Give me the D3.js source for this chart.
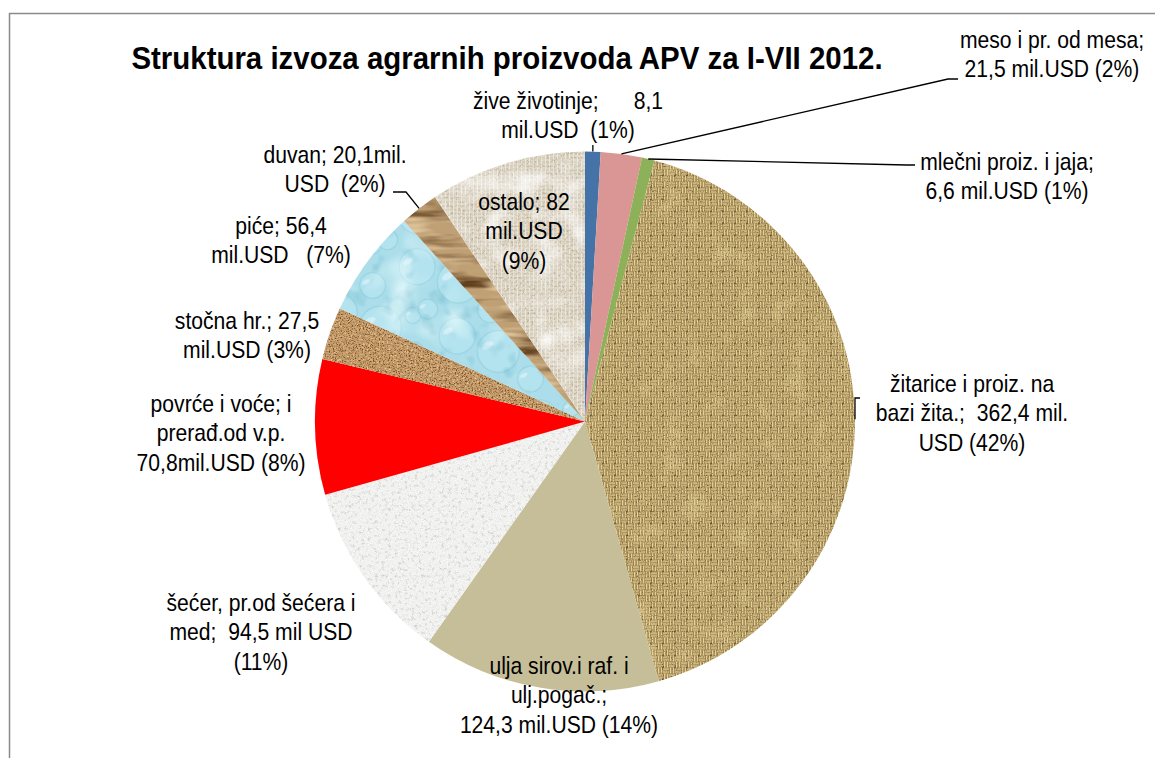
<!DOCTYPE html>
<html>
<head>
<meta charset="utf-8">
<script src="https://cdn.jsdelivr.net/npm/d3@7"></script>
<style>
  html, body { margin: 0; padding: 0; background: #fff; }
  svg text { white-space: pre; }
</style>
</head>
<body>
<div id="chart"></div>
<script>
// Struktura izvoza agrarnih proizvoda APV za I-VII 2012. (pie, textured slices)

const categories = [
  "žive životinje", "meso i pr. od mesa", "mlečni proiz. i jaja",
  "žitarice i proiz. na bazi žita", "ulja sirov.i raf. i ulj.pogač.",
  "šećer, pr.od šećera i med", "povrće i voće; i prerađ.od v.p.",
  "stočna hr.", "piće", "duvan", "ostalo"
];
// mil. USD
const values = [8.1, 21.5, 6.6, 362.4, 124.3, 94.5, 70.8, 27.5, 56.4, 20.1, 82];

// label text exactly as written on the chart
const labelLines = [
  ["žive životinje;      8,1", "mil.USD  (1%)"],
  ["meso i pr. od mesa;", "21,5 mil.USD (2%)"],
  ["mlečni proiz. i jaja;", "6,6 mil.USD (1%)"],
  ["žitarice i proiz. na", "bazi žita.;  362,4 mil.", "USD (42%)"],
  ["ulja sirov.i raf. i", "ulj.pogač.;", "124,3 mil.USD (14%)"],
  ["šećer, pr.od šećera i", "med;  94,5 mil USD", "(11%)"],
  ["povrće i voće; i", "prerađ.od v.p.", "70,8mil.USD (8%)"],
  ["stočna hr.; 27,5", "mil.USD (3%)"],
  ["piće; 56,4", "mil.USD   (7%)"],
  ["duvan; 20,1mil.", "USD  (2%)"],
  ["ostalo; 82", "mil.USD", "(9%)"]
];

const title = "Struktura izvoza agrarnih proizvoda APV za I-VII 2012.";

// ---- layout / style ----
const width = 1155, height = 758;
const cx = 585, cy = 421.5, R = 270;
const lineH = 29.5;

// label block anchors: centre x, first baseline y
const labelPos = [
  [568, 109], [1052, 48], [1007, 170], [972, 392], [559, 674], [261, 611],
  [221, 412], [247, 329], [281, 234], [335, 163], [524, 210]
];
// leader line bend points (from the slice edge outwards)
const leaders = {
  0: [[null, 145]],
  1: [[948, 79], [958, 79]],
  2: [[907, 165], [915, 165]],
  3: [[null, 398], [860, 398]],
  9: [[406, 192], [393, 192]]
};

const fills = [
  "#4573a8", "#d99694", "#8db158", "url(#burlap)", "#c6be98", "#efefed",
  "#ff0000", "#c49c6c", "url(#water)", "#bf9f74", "url(#linen)"
];
const noise = [null, null, null, "nBurlap", null, "nSugar", null, "nSand", "nWater", "nTobacco", "nLinen"];

// ---- font check (narrow face if installed, otherwise squeeze) ----
function hasFont(name) {
  const c = document.createElement("canvas").getContext("2d");
  const s = "mmmmmmmmmmlli WWW 0123 abc";
  c.font = "40px monospace";
  const a = c.measureText(s).width;
  c.font = `40px "${name}", monospace`;
  return c.measureText(s).width !== a;
}
const narrow = hasFont("Liberation Sans Narrow");
const family = narrow ? "'Liberation Sans Narrow', 'Arial Narrow', sans-serif" : "'Liberation Sans', Arial, sans-serif";
const squeeze = narrow ? 1.07 : 0.88;
const labelSize = narrow ? 22 : 24;
const titleSize = narrow ? 30 : 32;
const titleSqueeze = narrow ? 1.1 : 0.92;

const svg = d3.select("#chart").append("svg")
  .attr("width", width)
  .attr("height", height)
  .style("font-family", family);

// ---- textures ----
const defs = svg.append("defs");

function noiseFilter(id, freq, oct, seed, rgb, aScale, aOff, extra) {
  const f = defs.append("filter").attr("id", id)
    .attr("x", "-5%").attr("y", "-5%").attr("width", "110%").attr("height", "110%")
    .attr("color-interpolation-filters", "sRGB");
  f.append("feTurbulence").attr("type", "fractalNoise")
    .attr("baseFrequency", freq).attr("numOctaves", oct).attr("seed", seed).attr("result", "t");
  f.append("feColorMatrix").attr("in", "t").attr("type", "matrix")
    .attr("values", `0 0 0 0 ${rgb[0]}  0 0 0 0 ${rgb[1]}  0 0 0 0 ${rgb[2]}  ${aScale} 0 0 0 ${aOff}`)
    .attr("result", "c");
  f.append("feComposite").attr("in", "c").attr("in2", "SourceGraphic").attr("operator", "in").attr("result", "n1");
  const merge = [ "SourceGraphic", "n1" ];
  if (extra) {
    f.append("feTurbulence").attr("type", "fractalNoise")
      .attr("baseFrequency", extra.freq).attr("numOctaves", extra.oct).attr("seed", extra.seed).attr("result", "t2");
    f.append("feColorMatrix").attr("in", "t2").attr("type", "matrix")
      .attr("values", `0 0 0 0 ${extra.rgb[0]}  0 0 0 0 ${extra.rgb[1]}  0 0 0 0 ${extra.rgb[2]}  ${extra.aScale} 0 0 0 ${extra.aOff}`)
      .attr("result", "c2");
    f.append("feComposite").attr("in", "c2").attr("in2", "SourceGraphic").attr("operator", "in").attr("result", "n2");
    merge.push("n2");
  }
  const m = f.append("feMerge");
  merge.forEach(n => m.append("feMergeNode").attr("in", n));
}

noiseFilter("nBurlap", 0.04, 2, 4, [0.95, 0.88, 0.65], 1.2, -0.7,
  { freq: 0.8, oct: 1, seed: 9, rgb: [0.28, 0.2, 0.08], aScale: -2.6, aOff: 1.1 });
noiseFilter("nSugar", 0.3, 3, 2, [0.72, 0.72, 0.72], -2.0, 0.95,
  { freq: 0.9, oct: 1, seed: 7, rgb: [1, 1, 1], aScale: 2.5, aOff: -1.1 });
noiseFilter("nSand", 0.7, 2, 5, [0.45, 0.27, 0.1], -3.4, 1.75,
  { freq: 0.5, oct: 2, seed: 11, rgb: [0.93, 0.8, 0.62], aScale: 3, aOff: -1.55 });
noiseFilter("nWater", 0.025, 2, 3, [0.95, 1, 1], 2.0, -1.0,
  { freq: 0.06, oct: 2, seed: 6, rgb: [0.45, 0.72, 0.8], aScale: -1.6, aOff: 0.7 });
noiseFilter("nTobacco", "0.012 0.09", 3, 8, [0.38, 0.25, 0.12], -3, 1.55,
  { freq: "0.02 0.12", oct: 2, seed: 13, rgb: [0.9, 0.8, 0.64], aScale: 3, aOff: -1.45 });
noiseFilter("nLinen", 0.45, 2, 1, [0.6, 0.55, 0.47], -1.8, 0.85,
  { freq: 0.04, oct: 2, seed: 12, rgb: [1, 1, 1], aScale: 2, aOff: -0.9 });

// burlap weave
const cell = 6;
const bp = defs.append("pattern").attr("id", "burlap")
  .attr("patternUnits", "userSpaceOnUse").attr("width", cell * 2).attr("height", cell * 2);
bp.append("rect").attr("width", cell * 2).attr("height", cell * 2).attr("fill", "#86693a");
[[0, 0, "h"], [cell, cell, "h"], [cell, 0, "v"], [0, cell, "v"]].forEach(([x, y, o]) => {
  [0.7, 3.6].forEach(off => {
    bp.append("rect")
      .attr("x", o === "h" ? x : x + off).attr("y", o === "h" ? y + off : y)
      .attr("width", o === "h" ? cell : 1.8).attr("height", o === "h" ? 1.8 : cell)
      .attr("fill", "#e4d196");
  });
});
bp.append("rect").attr("x", cell - 0.8).attr("y", cell - 0.8).attr("width", 1.4).attr("height", 1.4).attr("fill", "#3f2f16");

// water bubbles
const wp = defs.append("pattern").attr("id", "water")
  .attr("patternUnits", "userSpaceOnUse").attr("width", 90).attr("height", 80)
  .attr("patternTransform", "rotate(-30)");
wp.append("rect").attr("width", 90).attr("height", 80).attr("fill", "#abdeea");
[[22, 22, 18], [64, 16, 13], [50, 56, 21], [10, 64, 10], [84, 62, 8]].forEach(([x, y, r]) => {
  wp.append("circle").attr("cx", x).attr("cy", y).attr("r", r)
    .attr("fill", "#b3e3ef").attr("stroke", "#93cedd").attr("stroke-width", 1);
  wp.append("ellipse").attr("cx", x - r * 0.3).attr("cy", y - r * 0.5).attr("rx", r * 0.3).attr("ry", r * 0.15)
    .attr("fill", "#e6f8fc").attr("opacity", 0.55);
});

// linen grid
const lp = defs.append("pattern").attr("id", "linen")
  .attr("patternUnits", "userSpaceOnUse").attr("width", 4).attr("height", 4);
lp.append("rect").attr("width", 4).attr("height", 4).attr("fill", "#e0d8c8");
lp.append("rect").attr("width", 4).attr("height", 1).attr("fill", "#cec4b0");
lp.append("rect").attr("width", 1).attr("height", 4).attr("fill", "#ebe6da");

// ---- frame ----
svg.append("path")
  .attr("d", `M9.5,${height + 5}V13.5H${width + 5}`)
  .attr("fill", "none").attr("stroke", "#8a8a8a").attr("stroke-width", 1.5);

// ---- pie ----
const pieData = d3.pie().sort(null).value(d => d)(values);
const arc = d3.arc().innerRadius(0).outerRadius(R);

const slices = svg.append("g").attr("transform", `translate(${cx},${cy})`);
slices.selectAll("g.slice")
  .data(pieData)
  .join("g")
  .attr("class", "slice")
  .each(function (d, i) {
    const g = d3.select(this);
    const p = g.append("path").attr("d", arc(d)).attr("fill", fills[i]);
    if (noise[i]) p.attr("filter", `url(#${noise[i]})`);
  });

// ---- leader lines ----
function edgePoint(d) {
  const a = (d.startAngle + d.endAngle) / 2;
  return [cx + R * Math.sin(a), cy - R * Math.cos(a)];
}
const line = d3.line();
Object.entries(leaders).forEach(([k, pts]) => {
  const e = edgePoint(pieData[+k]);
  const path = [e].concat(pts.map(p => [p[0] === null ? e[0] : p[0], p[1]]));
  svg.append("path").attr("d", line(path))
    .attr("fill", "none").attr("stroke", "#000").attr("stroke-width", 1.3);
});

// ---- labels ----
function block(lines, x, y, size, weight, sq) {
  const t = svg.append("text")
    .attr("text-anchor", "middle")
    .attr("transform", `translate(${x},${y}) scale(${sq},1)`)
    .style("font-size", size + "px")
    .style("font-weight", weight || "normal")
    .attr("fill", "#000");
  lines.forEach((l, i) => t.append("tspan").attr("x", 0).attr("y", i * lineH).text(l));
  return t;
}

labelLines.forEach((lines, i) => block(lines, labelPos[i][0], labelPos[i][1], labelSize, "normal", squeeze));

block([title], 507, 69, titleSize, "bold", titleSqueeze);
</script>
</body>
</html>
